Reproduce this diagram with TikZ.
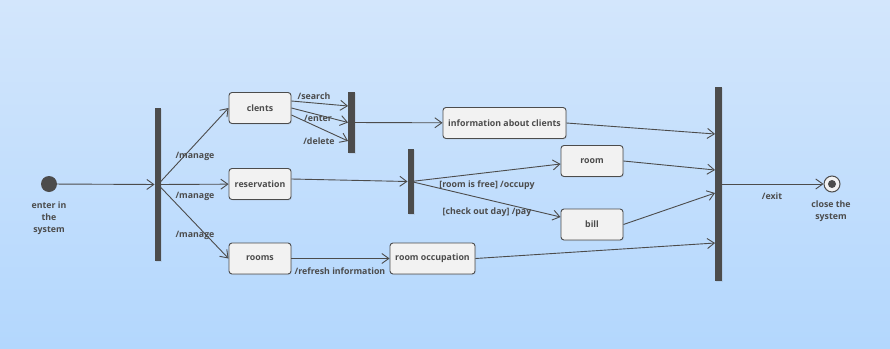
\documentclass[tikz,border=0pt]{standalone}
\usepackage{fontspec}
\setmainfont{Open Sans}
\usetikzlibrary{arrows.meta, calc, shadows}
\definecolor{bgtop}{HTML}{D3E6FC}
\definecolor{bgbot}{HTML}{B3D7FD}
\definecolor{ink}{HTML}{4C4C4C}
\definecolor{boxfill}{HTML}{F2F2F2}
\tikzset{
        action/.style={rectangle, draw=ink, fill=boxfill, rounded corners=3pt, line width=0.9pt, minimum height=31pt, minimum width=62pt, text=ink, drop shadow={shadow xshift=1pt, shadow yshift=-1pt, opacity=0.15}},
        bar/.style={rectangle, fill=ink, minimum width=6.5pt, inner sep=0pt, drop shadow={shadow xshift=1pt, shadow yshift=-1pt, opacity=0.15}},
        flow/.style={draw=ink, line width=0.9pt, -{Straight Barb[length=7pt,width=10pt,line width=0.9pt]}},
        lbl/.style={text=ink, inner sep=1pt, align=center},
        startnode/.style={circle, fill=ink, minimum size=16pt, inner sep=0pt},
        endnode/.style={circle, draw=ink, fill=boxfill, line width=1pt, minimum size=16pt, inner sep=0pt,
            path picture={\fill[ink] (path picture bounding box.center) circle (4pt);}},
    }

\begin{document}
\begin{tikzpicture}[x=1pt, y=-1pt, font=\bfseries\fontsize{8.8}{12.2}\selectfont]

        % background
        \shade[top color=bgtop, bottom color=bgbot] (0,0) rectangle (890,348);
        \useasboundingbox (0,0) rectangle (890,348);

        % === START AND FIRST FORK ===
        \node[startnode] (enter) at (49,184) {};
        \node[lbl] (enterlbl) at (49,218) {enter in\\the\\system};
        \node[bar, minimum height=153pt] (fork) at (158,184.5) {};

        % === ACTIONS ===
        \node[action] (clents) at (260,108) {clents};
        \node[action] (reservation) at (260,184) {reservation};
        \node[action] (rooms) at (260,258.5) {rooms};

        \node[bar, minimum height=61pt] (clientbar) at (351.5,122.5) {};
        \node[action, minimum width=123pt] (info) at (504.5,123) {information about clients};

        \node[bar, minimum height=65pt] (roombar) at (411,181.5) {};
        \node[action] (room) at (592,161) {room};
        \node[action] (bill) at (592,224.5) {bill};

        \node[action, minimum width=85pt] (occupation) at (432.5,258.5) {room occupation};

        % === JOIN AND END ===
        \node[bar, minimum height=194pt] (join) at (718.5,184) {};
        \node[endnode] (close) at (832,184) {};
        \node[lbl] (closelbl) at (831,211.5) {close the\\system};

        % transitions
        \draw[flow] (enter) -- (fork);
        \draw[flow] (fork.center) -- (clents.west);
        \draw[flow] (fork.center) -- (reservation);
        \draw[flow] (fork.center) -- (rooms.west);

        \draw[flow] ([yshift=7pt]clents.east) -- ([yshift=16.5pt]clientbar.west);
        \draw[flow] (clents.east) -- (clientbar.west);
        \draw[flow] ([yshift=-7pt]clents.east) -- ([yshift=-18.5pt]clientbar.west);
        \draw[flow] (clientbar) -- (info);

        \draw[flow] ([yshift=5pt]reservation.east) -- (roombar.west);
        \draw[flow] (roombar.center) -- ([yshift=-3pt]room.west);
        \draw[flow] (roombar.center) -- ([yshift=7.5pt]bill.west);

        \draw[flow] (rooms) -- (occupation);

        \draw[flow] (info.east) -- ([yshift=50pt]join.west);
        \draw[flow] (room.east) -- ([yshift=14pt]join.west);
        \draw[flow] (bill.east) -- ([yshift=-9pt]join.west);
        \draw[flow] (occupation.east) -- ([yshift=-59pt]join.west);
        \draw[flow] (join) -- (close);

        % transition labels
        \node[lbl] (manage1) at (195,156) {/manage};
        \node[lbl] (manage2) at (195,196) {/manage};
        \node[lbl] (manage3) at (195,235) {/manage};
        \node[lbl] (search) at (314,96) {/search};
        \node[lbl] (enteract) at (318,118) {/enter};
        \node[lbl] (delete) at (319,141) {/delete};
        \node[lbl] (occupy) at (487,185) {[room is free] /occupy};
        \node[lbl] (pay) at (487,212) {[check out day] /pay};
        \node[lbl] (refresh) at (340,271) {/refresh information};
        \node[lbl] (exit) at (772,196) {/exit};

    \end{tikzpicture}
\end{document}
